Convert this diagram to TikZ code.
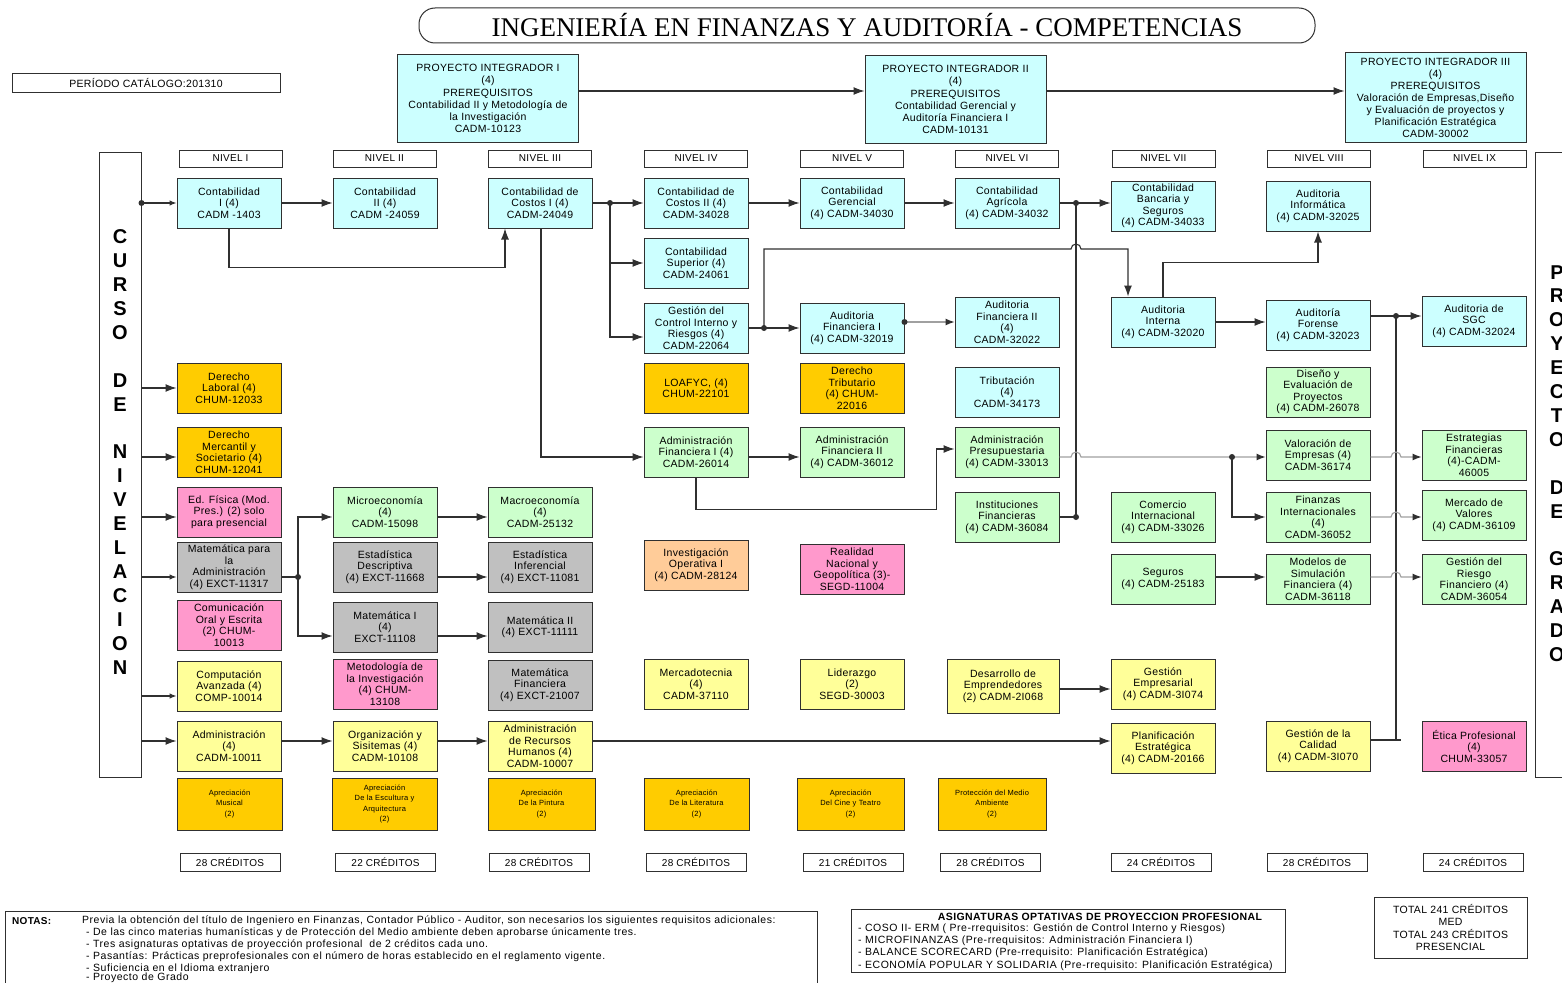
\documentclass[tikz,border=0pt]{standalone}
\usepackage{fontspec}
\setmainfont{Liberation Sans}[LetterSpace=3]
\newfontfamily\seriffont{Liberation Serif}
\usetikzlibrary{arrows.meta,calc}
\definecolor{cy}{HTML}{CCFFFF}
\definecolor{gr}{HTML}{CCFFCC}
\definecolor{ye}{HTML}{FFFF99}
\definecolor{og}{HTML}{FFCC00}
\definecolor{pk}{HTML}{FF99CC}
\definecolor{gy}{HTML}{C0C0C0}
\definecolor{pc}{HTML}{FFCC99}
\definecolor{ln}{HTML}{303030}
\definecolor{gl}{HTML}{A0A0A0}
\tikzset{
 box/.style={draw=ln, line width=1pt, minimum width=104pt, minimum height=50pt, inner sep=1pt, align=center, font=\fontsize{10.5}{11.5}\selectfont},
 cyb/.style={box, fill=cy}, grb/.style={box, fill=gr}, yeb/.style={box, fill=ye},
 ogb/.style={box, fill=og}, pkb/.style={box, fill=pk}, gyb/.style={box, fill=gy}, pcb/.style={box, fill=pc},
 pib/.style={box, fill=cy, minimum width=181pt, minimum height=88pt, font=\fontsize{10.5}{12.2}\selectfont},
 hdr/.style={draw=ln, line width=0.9pt, minimum width=103pt, minimum height=17pt, inner sep=0pt, font=\fontsize{10}{11}\selectfont},
 cred/.style={draw=ln, line width=0.9pt, minimum width=100pt, minimum height=18pt, inner sep=0pt, font=\fontsize{10}{11}\selectfont},
 apr/.style={box, fill=og, minimum width=105pt, minimum height=52pt, font=\fontsize{7.5}{10.3}\selectfont},
 conn/.style={draw=ln, line width=1.1pt},
 arr/.style={conn, -{Latex[length=11pt,width=8pt]}},
 sarr/.style={conn, -{Latex[length=7pt,width=5.5pt]}},
 garr/.style={draw=gl, line width=1.1pt, -{Latex[length=9pt,width=7pt,color=ln]}},
 txt/.style={inner sep=0pt, anchor=west, font=\fontsize{10.5}{12}\selectfont\addfontfeature{LetterSpace=5}},
 otxt/.style={inner sep=0pt, anchor=west, font=\fontsize{10.5}{12}\selectfont\addfontfeature{LetterSpace=5}},
}
\begin{document}
\begin{tikzpicture}[x=1pt,y=-1pt]
\fill[white] (0,0) rectangle (1562,982);
\useasboundingbox (0,0) rectangle (1562,982);

% title and period
\node[draw=ln, line width=1pt, rounded corners=16pt, minimum width=896pt, minimum height=35pt, inner sep=0pt, font=\seriffont\fontsize{27}{29}\selectfont] (title) at (867,25.5) {INGENIERÍA EN FINANZAS Y AUDITORÍA - COMPETENCIAS};
\node[draw=ln, line width=1pt, minimum width=268pt, minimum height=19pt, inner sep=0pt, font=\fontsize{10.5}{12}\selectfont] (per) at (146,82.5) {PERÍODO CATÁLOGO:201310};

% proyectos integradores
\node[pib] (pi1) at (488,98.5) {PROYECTO INTEGRADOR I\\(4)\\PREREQUISITOS\\Contabilidad II y Metodología de\\la Investigación\\CADM-10123};
\node[pib] (pi2) at (955.5,99.5) {PROYECTO INTEGRADOR II\\(4)\\PREREQUISITOS\\Contabilidad Gerencial y\\Auditoría Financiera I\\CADM-10131};
\node[pib, minimum height=89pt, font=\fontsize{10.5}{12}\selectfont] (pi3) at (1435.5,97.5) {PROYECTO INTEGRADOR III\\(4)\\PREREQUISITOS\\Valoración de Empresas,Diseño\\y Evaluación de proyectos y\\Planificación Estratégica\\CADM-30002};

% headers
\node[hdr] (h1) at (230.5,158.5) {NIVEL I};
\node[hdr] (h2) at (384.5,158.5) {NIVEL II};
\node[hdr] (h3) at (540,158.5) {NIVEL III};
\node[hdr] (h4) at (696,158.5) {NIVEL IV};
\node[hdr] (h5) at (852,158.5) {NIVEL V};
\node[hdr] (h6) at (1007,158.5) {NIVEL VI};
\node[hdr] (h7) at (1163.5,158.5) {NIVEL VII};
\node[hdr] (h8) at (1319,158.5) {NIVEL VIII};
\node[hdr] (h9) at (1474.5,158.5) {NIVEL IX};

% side boxes
\node[draw=ln, line width=1pt, minimum width=42pt, minimum height=625pt, inner sep=0pt] (curso) at (120,464.5) {};
\node[inner sep=0pt, align=center, font=\bfseries\fontsize{20}{23.9}\selectfont] (cursot) at (120,452) {C\\U\\R\\S\\O\\[23.9pt]D\\E\\[23.9pt]N\\I\\V\\E\\L\\A\\C\\I\\O\\N};
\node[draw=ln, line width=1pt, minimum width=60pt, minimum height=625pt, inner sep=0pt] (pdg) at (1565,464.5) {};
\node[inner sep=0pt, align=center, font=\bfseries\fontsize{20}{23.9}\selectfont] (pdgt) at (1557,463.5) {P\\R\\O\\Y\\E\\C\\T\\O\\[23.9pt]D\\E\\[23.9pt]G\\R\\A\\D\\O};

% row A
\node[cyb] (c1) at (229,203) {Contabilidad\\I (4)\\CADM -1403};
\node[cyb] (c2) at (385,203) {Contabilidad\\II (4)\\CADM -24059};
\node[cyb] (cc1) at (540,203) {Contabilidad de\\Costos I (4)\\CADM-24049};
\node[cyb] (cc2) at (696,203) {Contabilidad de\\Costos II (4)\\CADM-34028};
\node[cyb] (cg) at (852,203) {Contabilidad\\Gerencial\\(4) CADM-34030};
\node[cyb] (ca) at (1007,203) {Contabilidad\\Agrícola\\(4) CADM-34032};
\node[cyb] (cb) at (1163,206) {Contabilidad\\Bancaria y\\Seguros\\(4) CADM-34033};
\node[cyb] (ai) at (1318,206) {Auditoria\\Informática\\(4) CADM-32025};
% row B
\node[cyb] (cs) at (696,263) {Contabilidad\\Superior (4)\\CADM-24061};
% row C
\node[cyb] (gci) at (696,328) {Gestión del\\Control Interno y\\Riesgos (4)\\CADM-22064};
\node[cyb] (af1) at (852,328) {Auditoria\\Financiera I\\(4) CADM-32019};
\node[cyb] (af2) at (1007,322) {Auditoria\\Financiera II\\(4)\\CADM-32022};
\node[cyb] (aint) at (1163,322) {Auditoria\\Interna\\(4) CADM-32020};
\node[cyb] (afor) at (1318,325) {Auditoría\\Forense\\(4) CADM-32023};
\node[cyb] (sgc) at (1474,321) {Auditoria de\\SGC\\(4) CADM-32024};
% row D
\node[ogb] (dl) at (229,388) {Derecho\\Laboral (4)\\CHUM-12033};
\node[ogb] (loa) at (696,388) {LOAFYC, (4)\\CHUM-22101};
\node[ogb] (dt) at (852,388) {Derecho\\Tributario\\(4) CHUM-\\22016};
\node[cyb] (tri) at (1007,392) {Tributación\\(4)\\CADM-34173};
\node[grb] (dis) at (1318,392) {Diseño y\\Evaluación de\\Proyectos\\(4) CADM-26078};
% row E
\node[ogb] (dm) at (229,452) {Derecho\\Mercantil y\\Societario (4)\\CHUM-12041};
\node[grb] (afi1) at (696,452) {Administración\\Financiera I (4)\\CADM-26014};
\node[grb] (afi2) at (852,452) {Administración\\Financiera II\\(4) CADM-36012};
\node[grb] (ap) at (1007,452) {Administración\\Presupuestaria\\(4) CADM-33013};
\node[grb] (ve) at (1318,455) {Valoración de\\Empresas (4)\\CADM-36174};
\node[grb] (ef) at (1474,455) {Estrategias\\Financieras\\(4)-CADM-\\46005};
% row F
\node[pkb] (edf) at (229,512) {Ed. Física (Mod.\\Pres.) (2) solo\\para presencial};
\node[grb] (mic) at (385,512) {Microeconomía\\(4)\\CADM-15098};
\node[grb] (mac) at (540,512) {Macroeconomía\\(4)\\CADM-25132};
\node[grb] (inf) at (1007,517) {Instituciones\\Financieras\\(4) CADM-36084};
\node[grb] (ci) at (1163,517) {Comercio\\Internacional\\(4) CADM-33026};
\node[grb] (fi) at (1318,517) {Finanzas\\Internacionales\\(4)\\CADM-36052};
\node[grb] (mv) at (1474,515) {Mercado de\\Valores\\(4) CADM-36109};
% row G
\node[gyb] (mpa) at (229,567) {Matemática para\\la\\Administración\\(4) EXCT-11317};
\node[gyb] (ed) at (385,567) {Estadística\\Descriptiva\\(4) EXCT-11668};
\node[gyb] (ei) at (540,567) {Estadística\\Inferencial\\(4) EXCT-11081};
\node[pcb] (io) at (696,565) {Investigación\\Operativa I\\(4) CADM-28124};
\node[pkb] (rn) at (852,569) {Realidad\\Nacional y\\Geopolítica (3)-\\SEGD-11004};
\node[grb] (seg) at (1163,579) {Seguros\\(4) CADM-25183};
\node[grb] (msf) at (1318,579) {Modelos de\\Simulación\\Financiera (4)\\CADM-36118};
\node[grb] (grf) at (1474,579) {Gestión del\\Riesgo\\Financiero (4)\\CADM-36054};
% row H
\node[pkb] (coe) at (229,625) {Comunicación\\Oral y Escrita\\(2) CHUM-\\10013};
\node[gyb] (m1) at (385,627) {Matemática I\\(4)\\EXCT-11108};
\node[gyb] (m2) at (540,627) {Matemática II\\(4) EXCT-11111};
% row I
\node[yeb] (comp) at (229,686) {Computación\\Avanzada (4)\\COMP-10014};
\node[pkb] (met) at (385,684) {Metodología de\\la Investigación\\(4) CHUM-\\13108};
\node[gyb] (mf) at (540,685) {Matemática\\Financiera\\(4) EXCT-21007};
\node[yeb] (mer) at (696,684) {Mercadotecnia\\(4)\\CADM-37110};
\node[yeb] (lid) at (852,684) {Liderazgo\\(2)\\SEGD-30003};
\node[yeb, minimum width=112pt, minimum height=54pt] (dem) at (1003,686) {Desarrollo de\\Emprendedores\\(2) CADM-2I068};
\node[yeb] (ge) at (1163,684) {Gestión\\Empresarial\\(4) CADM-3I074};
% row J
\node[yeb] (adm) at (229,746) {Administración\\(4)\\CADM-10011};
\node[yeb] (org) at (385,746) {Organización y\\Sisitemas (4)\\CADM-10108};
\node[yeb] (arh) at (540,746) {Administración\\de Recursos\\Humanos (4)\\CADM-10007};
\node[yeb] (pe) at (1163,748) {Planificación\\Estratégica\\(4) CADM-20166};
\node[yeb] (gc) at (1318,746) {Gestión de la\\Calidad\\(4) CADM-3I070};
\node[pkb] (ep) at (1474,746) {Ética Profesional\\(4)\\CHUM-33057};
% row K
\node[apr] (k1) at (229.5,804) {Apreciación\\Musical\\(2)};
\node[apr] (k2) at (384.5,804) {Apreciación\\De la Escultura y\\Arquitectura\\(2)};
\node[apr, minimum width=107pt] (k3) at (541.5,804) {Apreciación\\De la Pintura\\(2)};
\node[apr] (k4) at (696.5,804) {Apreciación\\De la Literatura\\(2)};
\node[apr, minimum width=107pt] (k5) at (850.5,804) {Apreciación\\Del Cine y Teatro\\(2)};
\node[apr, minimum width=108pt] (k6) at (992,804) {Protección del Medio\\Ambiente\\(2)};
% credits
\node[cred] (cr1) at (230,862) {28 CRÉDITOS};
\node[cred] (cr2) at (385.5,862) {22 CRÉDITOS};
\node[cred] (cr3) at (539,862) {28 CRÉDITOS};
\node[cred] (cr4) at (696,862) {28 CRÉDITOS};
\node[cred] (cr5) at (853,862) {21 CRÉDITOS};
\node[cred] (cr6) at (990.5,862) {28 CRÉDITOS};
\node[cred] (cr7) at (1161,862) {24 CRÉDITOS};
\node[cred] (cr8) at (1317,862) {28 CRÉDITOS};
\node[cred] (cr9) at (1473,862) {24 CRÉDITOS};

% junctions
\coordinate (j1) at (curso.east |- c1.west);
\coordinate (j2) at (610,203);
\coordinate (j3) at (1076,203);
\coordinate (j4) at (1076,517);
\coordinate (j5) at (764,328);
\coordinate (j6) at (1396,316);
\coordinate (j7) at (1232,457);
\coordinate (j8) at (298,577);
\coordinate (j9) at (af1.east |- af2.west);

% connectors from curso
\draw[sarr] (j1) -- (c1.west);
\draw[arr] (curso.east |- dl.west) -- (dl.west);
\draw[arr] ($(curso.east |- dm.west)+(0,5)$) -- ($(dm.west)+(0,5)$);
\draw[arr] ($(curso.east |- edf.west)+(0,5)$) -- ($(edf.west)+(0,5)$);
\draw[sarr] ($(curso.east |- mpa.west)+(0,10)$) -- ($(mpa.west)+(0,10)$);
\draw[sarr] ($(curso.east |- comp.west)+(0,10)$) -- ($(comp.west)+(0,10)$);
\draw[arr] ($(curso.east |- adm.west)+(0,-5)$) -- ($(adm.west)+(0,-5)$);

% project arrows
\draw[arr] ($(pi1.east)+(0,-7.5)$) -- ($(pi2.west)+(0,-8.5)$);
\draw[arr] ($(pi2.east)+(0,-8.5)$) -- ($(pi3.west)+(0,-6.5)$);

% accounting chain
\draw[arr] (c1.east) -- (c2.west);
\draw[arr] (c1.south) -- ++(0,39) -| ($(cc1.south)+(-35,0)$);
\draw[arr] (cc1.east) -- (cc2.west);
\draw[arr] (j2) |- (cs.west);
\draw[arr] (j2) |- ($(gci.west)+(0,9)$);
\draw[arr] ($(cc1.south)+(1,0)$) |- ($(afi1.west)+(0,5)$);
\draw[arr] (cc2.east) -- (cg.west);
\draw[arr] (cg.east) -- (ca.west);
\draw[arr] (ca.east) -- (ca.east -| cb.west);
\draw[conn] (inf.east) -- (j4) -- (j3);

% audit chain
\draw[arr] (gci.east) -- (af1.west);
\draw[arr] (j5) |- (1071,249) arc[start angle=180,end angle=0,radius=5pt] -| ($(aint.north)+(-35,0)$);
\draw[garr] (j9) -- (af2.west);
\draw[arr] (aint.north) -- ++(0,-34) -| (ai.south);
\draw[arr] (aint.east) -- (aint.east -| afor.west);
\draw[arr] ($(afor.east)+(0,-9)$) -- ($(afor.east -| sgc.west)+(0,-9)$);
\draw[conn] (j6) -- (1396,740);
\draw[conn] ($(gc.east)+(0,-6)$) -- ++(30,0);

% finance chain
\draw[arr] ($(afi1.east)+(0,5)$) -- ($(afi2.west)+(0,5)$);
\draw[arr] (afi1.south) -- ++(0,32) -| ($(ap.west)+(-18,-3)$) -- ($(ap.west)+(0,-3)$);
\draw[garr] ($(ap.east)+(0,5)$) -- (1071,457) arc[start angle=180,end angle=0,radius=5pt] -- ($(ve.west)+(0,2)$);
\draw[arr] (j7) |- (fi.west);
\draw[garr] ($(ve.east)+(0,2)$) -- (1391,457) arc[start angle=180,end angle=0,radius=5pt] -- ($(ef.west)+(0,2)$);
\draw[garr] (fi.east) -- (1391,517) arc[start angle=180,end angle=0,radius=5pt] -- ($(mv.west)+(0,2)$);
\draw[garr] ($(msf.east)+(0,-2)$) -- (1391,577) arc[start angle=180,end angle=0,radius=5pt] -- ($(grf.west)+(0,-2)$);
\draw[arr] ($(seg.east)+(0,-2)$) -- ($(msf.west)+(0,-2)$);

% math chain
\draw[conn] ($(mpa.east)+(0,10)$) -- (j8);
\draw[arr] (j8) |- ($(mic.west)+(0,5)$);
\draw[arr] (j8) |- ($(m1.west)+(0,9)$);
\draw[arr] ($(mic.east)+(0,5)$) -- ($(mac.west)+(0,5)$);
\draw[arr] ($(ed.east)+(0,10)$) -- ($(ei.west)+(0,10)$);
\draw[arr] ($(m1.east)+(0,9)$) -- ($(m2.west)+(0,9)$);

% administration chain
\draw[arr] ($(adm.east)+(0,-5)$) -- ($(org.west)+(0,-5)$);
\draw[arr] ($(org.east)+(0,-5)$) -- ($(arh.west)+(0,-5)$);
\draw[arr] ($(arh.east)+(0,-5)$) -- ($(pe.west)+(0,-7)$);
\draw[arr] ($(dem.east)+(0,3)$) -- ($(dem.east -| ge.west)+(0,3)$);

% dots
\foreach \p in {j1,j2,j3,j4,j5,j6,j7,j8,j9} \fill[ln] (\p) circle (3pt);

% notes
\draw[ln, line width=1pt] (5,911) rectangle (817,1000);
\node[txt, font=\bfseries\fontsize{10}{12}\selectfont] (notas) at (12,921) {NOTAS:};
\node[txt] (n1) at (82,921) {Previa la obtención del título de Ingeniero en Finanzas, Contador Público - Auditor, son necesarios los siguientes requisitos adicionales:};
\node[txt] (n2) at (86,932.5) {- De las cinco materias humanísticas y de Protección del Medio ambiente deben aprobarse únicamente tres.};
\node[txt] (n3) at (86,944.5) {- Tres asignaturas optativas de proyección profesional \ de 2 créditos cada uno.};
\node[txt] (n4) at (86,956.5) {- Pasantías: Prácticas preprofesionales con el número de horas establecido en el reglamento vigente.};
\node[txt] (n5) at (86,968.5) {- Suficiencia en el Idioma extranjero};
\node[txt] (n6) at (86,977.5) {- Proyecto de Grado};

% optativas
\draw[ln, line width=1pt] (851,909) rectangle (1285,972);
\node[inner sep=0pt, font=\bfseries\fontsize{10.5}{12}\selectfont\addfontfeature{LetterSpace=4}] (o0) at (1100,917) {ASIGNATURAS OPTATIVAS DE PROYECCION PROFESIONAL};
\node[otxt] (o1) at (858,929) {- COSO II- ERM ( Pre-rrequisitos: Gestión de Control Interno y Riesgos)};
\node[otxt] (o2) at (858,941) {- MICROFINANZAS (Pre-rrequisitos: Administración Financiera I)};
\node[otxt] (o3) at (858,953) {- BALANCE SCORECARD (Pre-rrequisito: Planificación Estratégica)};
\node[otxt] (o4) at (858,965) {- ECONOMÍA POPULAR Y SOLIDARIA (Pre-rrequisito: Planificación Estratégica)};

% total
\node[draw=ln, line width=1pt, minimum width=153pt, minimum height=61pt, inner sep=0pt, align=center, font=\fontsize{10.5}{12.2}\selectfont] (tot) at (1450.5,927.5) {TOTAL 241 CRÉDITOS\\MED\\TOTAL 243 CRÉDITOS\\PRESENCIAL};
\end{tikzpicture}
\end{document}
